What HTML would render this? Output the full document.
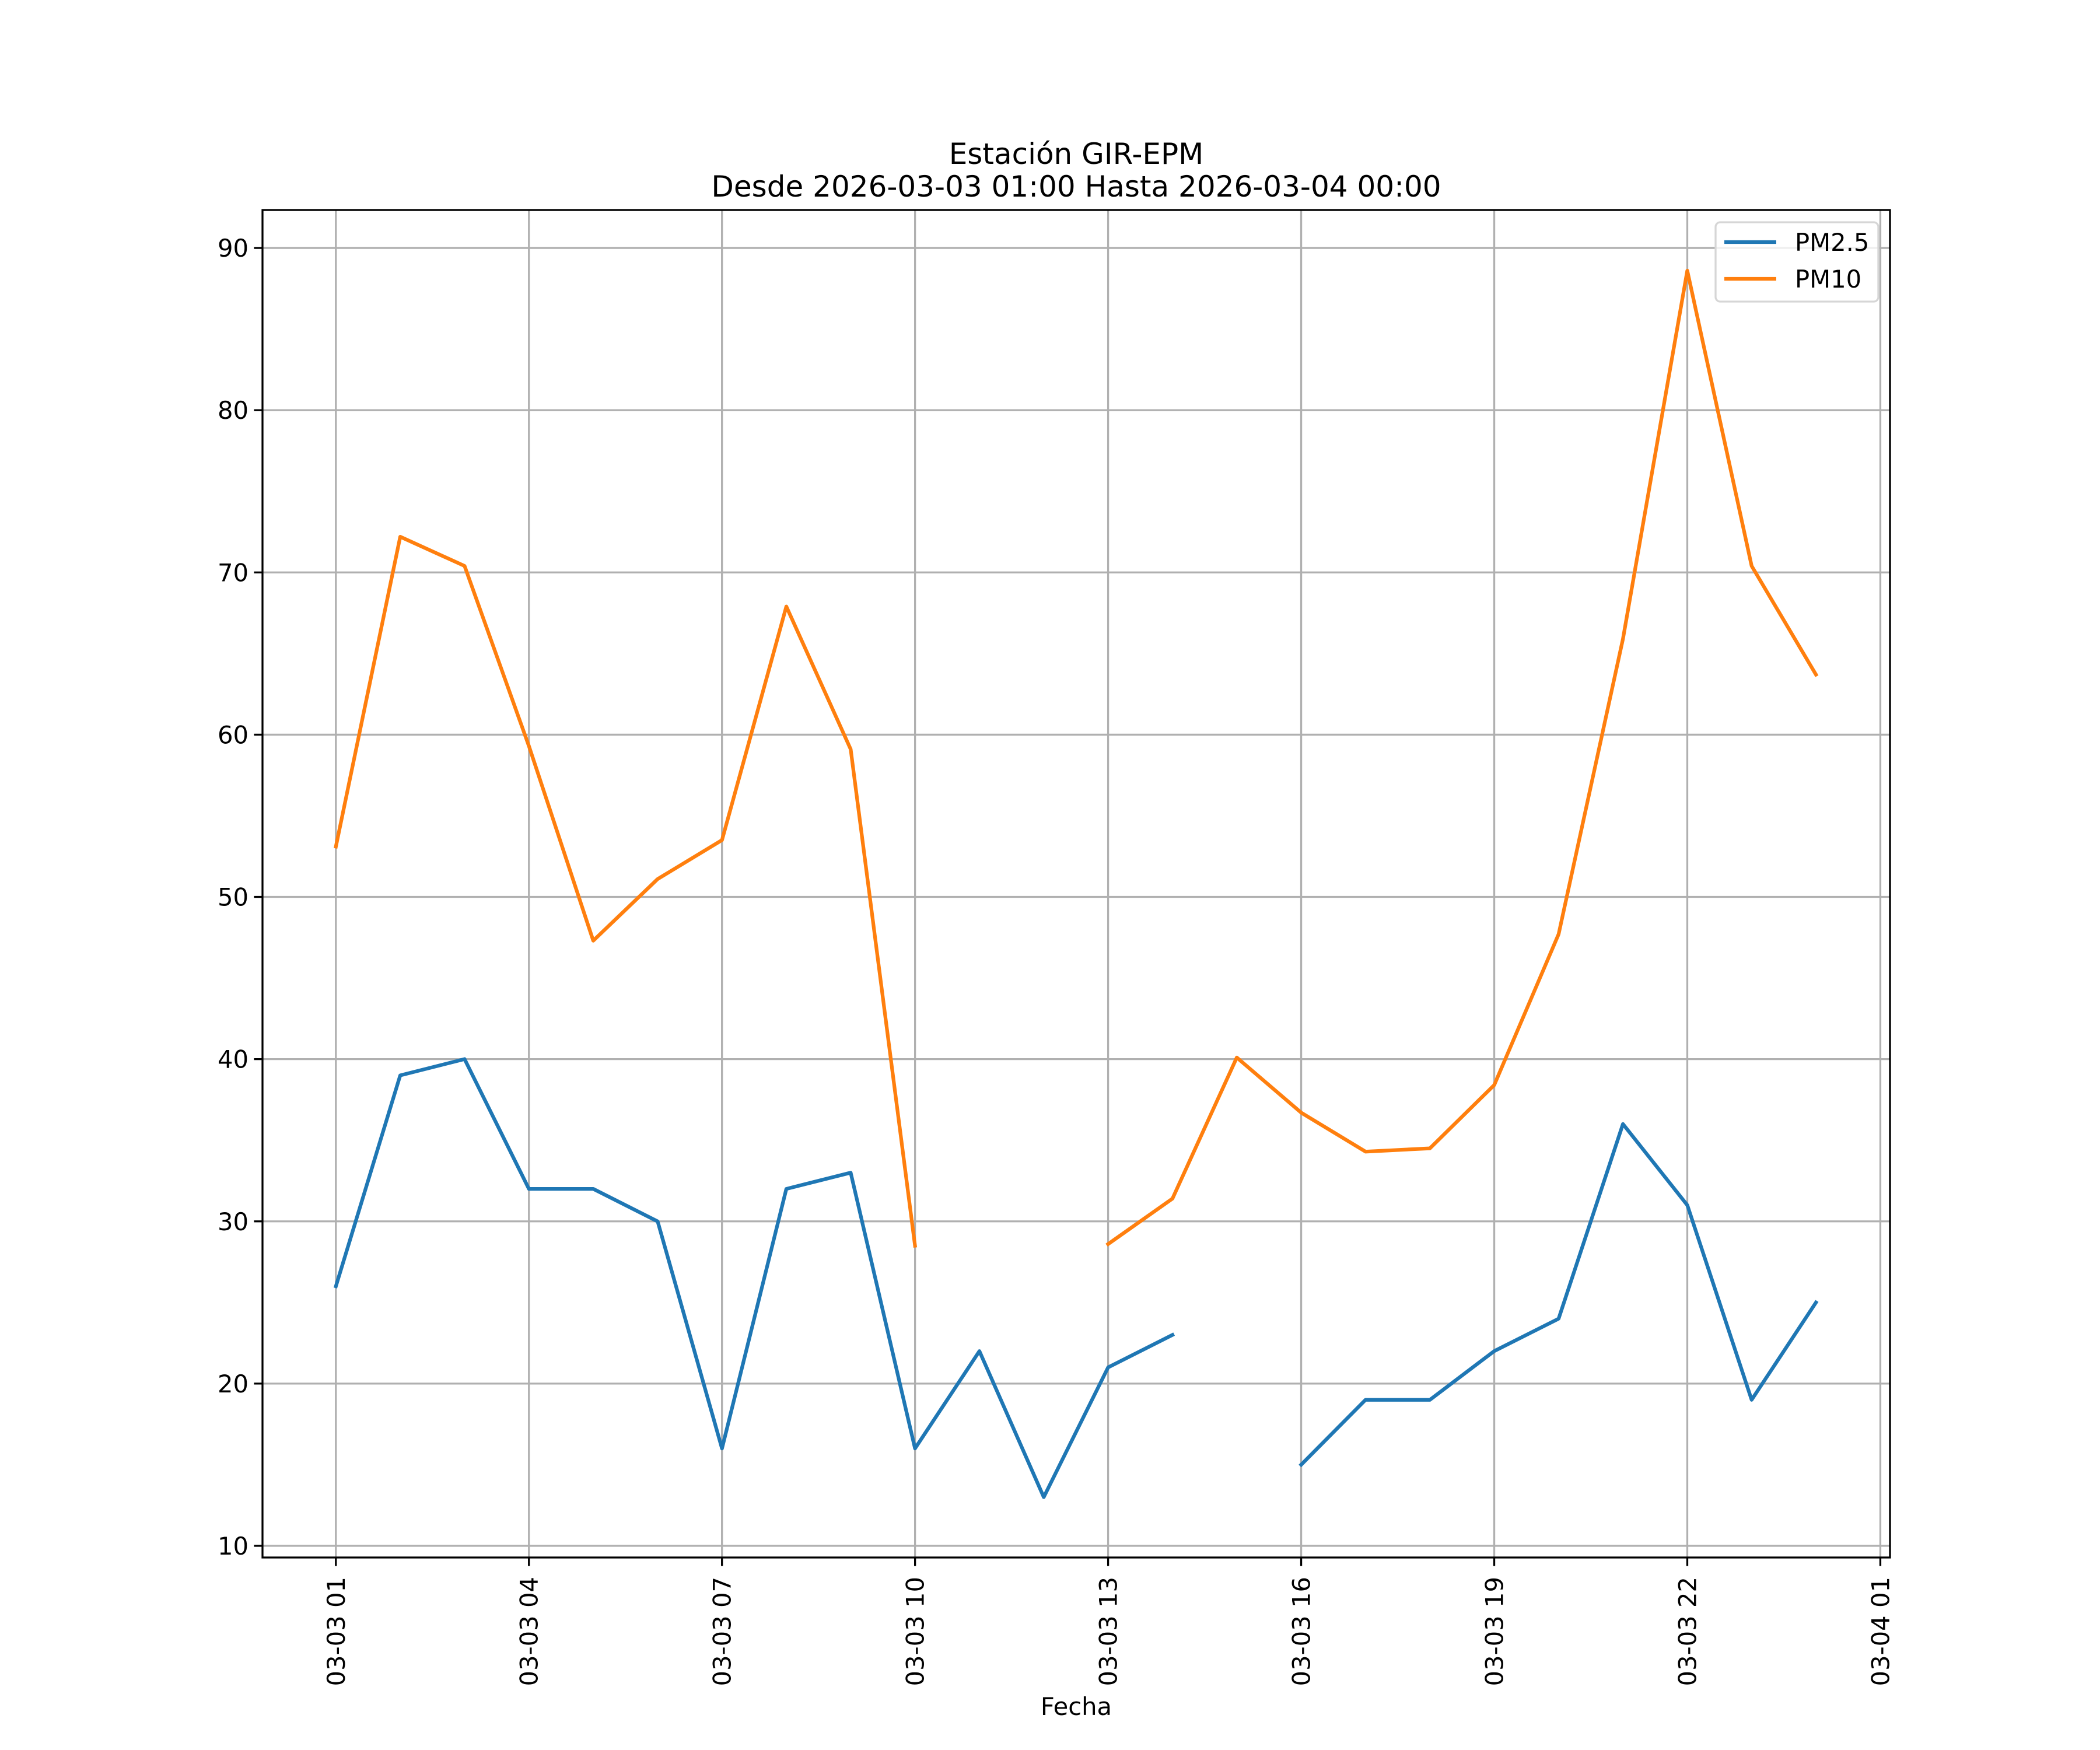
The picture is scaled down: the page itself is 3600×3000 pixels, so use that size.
<!DOCTYPE html>
<html><head><meta charset="utf-8"><style>
html,body{margin:0;padding:0;background:#fff;}
svg{display:block;font-family:"DejaVu Sans","Liberation Sans",sans-serif;}
</style></head><body>
<svg id="chart" width="3600" height="3000" viewBox="0 0 3600 3000" xmlns="http://www.w3.org/2000/svg">
<rect width="3600" height="3000" fill="#fff"/>
<g id="grid"></g>
<g id="series"></g>
<rect x="450" y="360" width="2790" height="2310" fill="none" stroke="#000" stroke-width="3.3"/>
<g id="ticks"></g>
<text x="1845" y="281" font-size="50" text-anchor="middle">Estación GIR-EPM</text>
<text x="1845" y="337" font-size="50" text-anchor="middle">Desde 2026-03-03 01:00 Hasta 2026-03-04 00:00</text>
<text x="1845" y="2940" font-size="41.7" text-anchor="middle">Fecha</text>
<g>
<rect x="2941" y="381" width="279" height="136" rx="8" fill="#fff" fill-opacity="0.8" stroke="#d6d6d6" stroke-width="3.3"/>
<line x1="2956" y1="415" x2="3045" y2="415" stroke="#1f77b4" stroke-width="6.25"/>
<text x="3077" y="430" font-size="41.7">PM2.5</text>
<line x1="2956" y1="478" x2="3045" y2="478" stroke="#ff7f0e" stroke-width="6.25"/>
<text x="3077" y="493" font-size="41.7">PM10</text>
</g>
</svg>
<script>
const hours = [0,1,2,3,4,5,6,7,8,9,10,11,12,13,14,15,16,17,18,19,20,21,22,23];
const pm25 = [26,39,40,32,32,30,16,32,33,16,22,13,21,23,null,15,19,19,22,24,36,31,19,25];
const pm10 = [53.1,72.2,70.4,59.3,47.3,51.1,53.5,67.9,59.1,28.5,null,null,28.6,31.4,40.1,36.7,34.3,34.5,38.4,47.7,65.9,88.6,70.4,63.7];
const yTicks = [10,20,30,40,50,60,70,80,90];
const xTickHours = [0,3,6,9,12,15,18,21,24];
const xTickLabels = ["03-03 01","03-03 04","03-03 07","03-03 10","03-03 13","03-03 16","03-03 19","03-03 22","03-04 01"];

const NS = "http://www.w3.org/2000/svg";
const L=450,R=3240,T=360,B=2670;
const xMin=-1.14,xMax=24.15,yMin=9.28,yMax=92.34;
const xs = h => L + (h-xMin)/(xMax-xMin)*(R-L);
const ys = v => B - (v-yMin)/(yMax-yMin)*(B-T);
function mk(tag, attrs, parent){const e=document.createElementNS(NS,tag);for(const k in attrs)e.setAttribute(k,attrs[k]);parent.appendChild(e);return e;}
const grid=document.getElementById('grid'), ticks=document.getElementById('ticks'), series=document.getElementById('series');

yTicks.forEach(v=>{
  const y=ys(v);
  const g=mk('line',{x1:L,x2:R,y1:y,y2:y,stroke:'#b0b0b0','stroke-width':3.3},grid);
  
  
  const t=mk('line',{x1:L-14.6,x2:L,y1:y,y2:y,stroke:'#000','stroke-width':3.3},ticks);
  
  
  const lb=mk('text',{x:L-24,y:y+15,'font-size':41.7,'text-anchor':'end'},ticks);
  lb.textContent=v;
  
  
});
xTickHours.forEach((h,i)=>{
  const x=xs(h);
  const g=mk('line',{x1:x,x2:x,y1:T,y2:B,stroke:'#b0b0b0','stroke-width':3.3},grid);
  
  
  const t=mk('line',{x1:x,x2:x,y1:B,y2:B+14.6,stroke:'#000','stroke-width':3.3},ticks);
  
  
  const lb=mk('text',{x:0,y:0,'font-size':41.7,'text-anchor':'end',transform:`translate(${x+15},${B+33}) rotate(-90)`},ticks);
  lb.textContent=xTickLabels[i];
  
  
});
function drawSeries(vals,color,name){
  let segs=[],cur=[];
  vals.forEach((v,i)=>{if(v===null){if(cur.length)segs.push(cur);cur=[];}else cur.push([xs(hours[i]),ys(v)]);});
  if(cur.length)segs.push(cur);
  const d=segs.map(s=>'M'+s.map(p=>p[0].toFixed(1)+','+p[1].toFixed(1)).join('L')).join('');
  const p=mk('path',{d:d,fill:'none',stroke:color,'stroke-width':6.25,'stroke-linejoin':'round','stroke-linecap':'square'},series);
  
  
}
drawSeries(pm25,'#1f77b4','pm25-line');
drawSeries(pm10,'#ff7f0e','pm10-line');
</script>
</body></html>
